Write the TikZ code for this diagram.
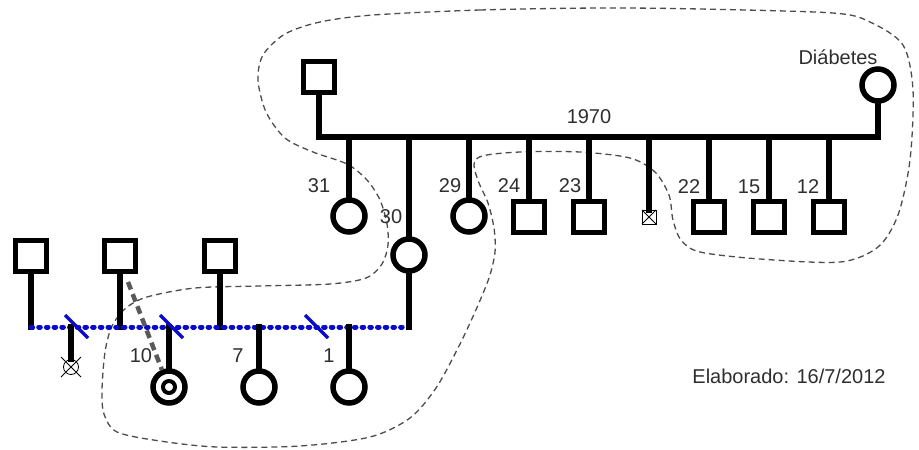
\documentclass[tikz,border=0pt]{standalone}
\usepackage{fontspec}
\setmainfont{Liberation Sans}
\begin{document}
\begin{tikzpicture}[x=1pt,y=-1pt,
  every node/.style={inner sep=0pt, outer sep=0pt},
  male/.style={draw=black, line width=5.5pt, minimum size=31pt, rectangle},
  female/.style={draw=black, line width=5.5pt, minimum size=32pt, circle},
  tiny/.style={draw=black, line width=0.8pt, minimum size=14pt, rectangle},
  link/.style={line width=5.5pt, line cap=rect, line join=miter},
  lbl/.style={text=black!82, font=\fontsize{20}{24}\selectfont},
  sibline/.style={draw={rgb,255:red,10;green,10;blue,205}, line width=5pt, line cap=round, dash pattern=on 1.6pt off 6.1pt},
  cut/.style={draw={rgb,255:red,10;green,10;blue,205}, line width=3.5pt},
  group/.style={draw=black!70, line width=1.3pt, dash pattern=on 6pt off 4pt},
  bond/.style={draw=black!65, line width=4.5pt, dash pattern=on 8pt off 5pt}]
\useasboundingbox (0,0) rectangle (919,450);

% household outline
\draw[group] plot[smooth cycle, tension=0.5] coordinates {
  (373,15) (480,10) (600,8) (700,9) (833,13) (870,22) (903,45) (913,90)
  (910,160) (898,215) (878,247) (840,262) (760,259) (700,252) (681,240)
  (673,220) (669,195) (655,172) (630,158) (580,152) (520,152) (482,156)
  (474,165) (479,183) (488,203) (494,228) (495,252) (489,278) (475,312)
  (458,348) (436,388) (410,418) (370,437) (300,446) (217,447) (160,441)
  (117,432) (104,414) (102,390) (105,352) (112,326) (126,308) (147,297)
  (195,288) (260,286) (330,284) (366,278) (382,264) (388,245) (387,224)
  (380,200) (367,180) (347,164) (313,152) (285,138) (266,112) (258,80)
  (263,55) (285,34) (320,22)};

% first generation
\node[male]   (gf) at (319,77) {};
\node[female] (gm) at (878,85) {};
\coordinate (m1L) at (319,137);
\coordinate (m1R) at (878,137);
\draw[link] (gf.south) -- (m1L) -- (m1R) -- (gm.south);
\node[lbl] (gmlbl) at (838,57) {Diábetes};
\node[lbl] (year) at (589,117) {1970};

% second generation
\node[female] (c31) at (349,216) {};
\node[female] (c30) at (409,255) {};
\node[female] (c29) at (469,216) {};
\node[male]   (c24) at (529,217) {};
\node[male]   (c23) at (589,217) {};
\node[tiny]   (cx)  at (649,217) {};
\node[male]   (c22) at (709,217) {};
\node[male]   (c15) at (769,217) {};
\node[male]   (c12) at (829,217) {};
\draw[line width=0.8pt] (cx.north west) -- (cx.south east) (cx.north east) -- (cx.south west);
\foreach \k in {c31,c30,c29,c24,c23,cx,c22,c15,c12}
  \draw[link] (\k.north) -- (\k.north |- m1L);
\node[lbl] at (319,186) {31};
\node[lbl] at (391,217) {30};
\node[lbl] at (450,186) {29};
\node[lbl] at (509,186) {24};
\node[lbl] at (570,186) {23};
\node[lbl] at (689,187) {22};
\node[lbl] at (749,187) {15};
\node[lbl] at (808,187) {12};

% partners of 30
\node[male] (p1) at (31,256) {};
\node[male] (p2) at (120,256) {};
\node[male] (p3) at (220,256) {};
\coordinate (s2L) at (31,327);
\coordinate (s2R) at (405,327);
\draw[link] (p1.south) -- (p1.south |- s2L);
\draw[link] (p2.south) -- (p2.south |- s2L);
\draw[link] (p3.south) -- (p3.south |- s2L);
\draw[link] (c30.south) -- (c30.south |- s2L);
\draw[sibline] (s2L) -- (s2R);

% third generation
\node[draw=black, line width=0.8pt, circle, minimum size=15pt] (dx) at (71,367) {};
\draw[line width=0.8pt] (61,357) -- (81,377) (81,357) -- (61,377);
\node[female] (c10) at (169,387) {};
\node[draw=black, line width=4pt, circle, minimum size=12pt] (c10in) at (169,387) {};
\node[female] (c7) at (259,387) {};
\node[female] (c1) at (349,387) {};
\draw[link] (dx.north) -- (dx.north |- s2L);
\foreach \k in {c10,c7,c1}
  \draw[link] (\k.north) -- (\k.north |- s2L);
\node[lbl] at (141,356) {10};
\node[lbl] at (238,356) {7};
\node[lbl] at (329,356) {1};

% separations on the sibship line
\draw[cut] (65,315) -- (88,338);
\draw[cut] (160,315) -- (183,338);
\draw[cut] (305,315) -- (328,338);

% tie between the second partner and child 10
\coordinate (b1) at (128,282);
\coordinate (b2) at (162,370);
\draw[bond] (b1) -- (b2);

\node[lbl] (date) at (789,376) {Elaborado: 16/7/2012};
\end{tikzpicture}
\end{document}
